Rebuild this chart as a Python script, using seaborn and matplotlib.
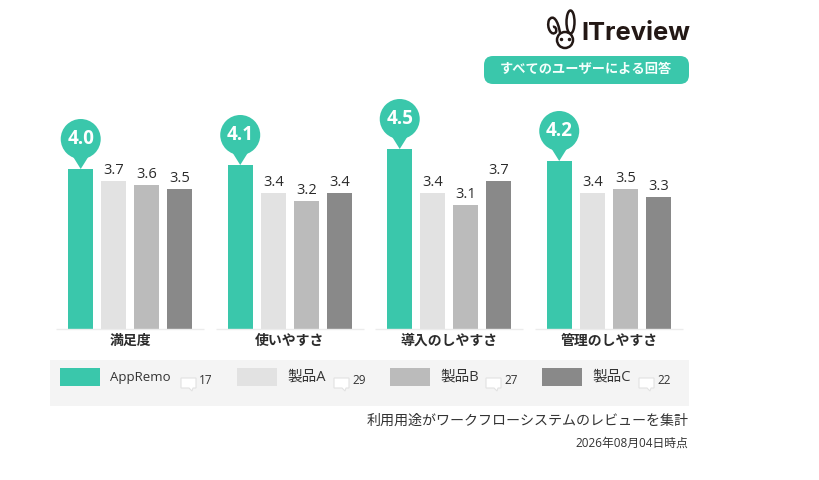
import matplotlib
matplotlib.use("Agg")
import matplotlib.pyplot as plt
from matplotlib.patches import Circle, Ellipse, FancyBboxPatch, PathPatch, Polygon, Rectangle
from matplotlib.path import Path
import pandas as pd
import seaborn as sns

categories = ["満足度", "使いやすさ", "導入のしやすさ", "管理のしやすさ"]
products = ["AppRemo", "製品A", "製品B", "製品C"]
review_counts = [17, 29, 27, 22]
appremo = [4.0, 4.1, 4.5, 4.2]
product_a = [3.7, 3.4, 3.4, 3.4]
product_b = [3.6, 3.2, 3.1, 3.5]
product_c = [3.5, 3.4, 3.7, 3.3]
colors = ["#3ac7ab", "#e2e2e2", "#bbbbbb", "#898989"]

badge_text = "すべてのユーザーによる回答"
footer_text = "利用用途がワークフローシステムのレビューを集計"
date_text = "2026年08月04日時点"

sns.set_theme(style="white")
plt.rcParams["font.family"] = ["Open Sans", "Noto Sans CJK JP", "DejaVu Sans"]

rows = []
for name, values in zip(products, [appremo, product_a, product_b, product_c]):
    for cat, v in zip(categories, values):
        rows.append({"category": cat, "product": name, "score": v})
df = pd.DataFrame(rows)

W, H = 820, 480
fig = plt.figure(figsize=(W / 100, H / 100), dpi=100, facecolor="white")

# bars: 40 px per score point, baseline at y=329
ax = fig.add_axes([50.5 / W, (H - 329) / H, 638 / W, 240 / H])
sns.barplot(data=df, x="category", y="score", hue="product", palette=colors,
            saturation=1, width=0.828, gap=0.242, linewidth=0, legend=False, ax=ax)
ax.set_ylim(0, 6)
ax.set_xlim(-0.5, 3.5)
ax.set_xlabel("")
ax.set_ylabel("")
ax.set_yticks([])
sns.despine(ax=ax, left=True, bottom=True)
ax.tick_params(axis="x", length=0, pad=3.5)
for label in ax.get_xticklabels():
    label.set_fontsize(10)
    label.set_fontweight("bold")
    label.set_color("#2b2b2b")
for i in range(len(categories)):
    ax.hlines(0, i - 0.464, i + 0.464, color="#ececec", lw=1, zorder=3, clip_on=False)

for container in ax.containers[1:]:
    ax.bar_label(container, fmt="%.1f", padding=2.5, fontsize=10.5, color="#2b2b2b")

# overlay in pixel coords for the pins, legend and header
ov = fig.add_axes([0, 0, 1, 1], facecolor="none")
ov.set_xlim(0, W)
ov.set_ylim(H, 0)
ov.axis("off")

for bar, v in zip(ax.containers[0], appremo):
    px, py = ax.transData.transform((bar.get_x() + bar.get_width() / 2, v))
    py = H - py
    ov.add_patch(Circle((px, py - 30), 20, fc=colors[0], ec="none"))
    ov.add_patch(Polygon([(px - 10, py - 16), (px + 10, py - 16), (px, py)], fc=colors[0], ec="none"))
    ov.text(px, py - 30, f"{v:.1f}", color="white", fontsize=13.5, fontweight="bold",
            ha="center", va="center")

# legend strip
ov.add_patch(Rectangle((50, 360), 639, 46, fc="#f4f4f4", ec="none"))
swatch_x = [60, 237, 390, 542]
label_x = [110, 287, 440, 592]
icon_x = [181, 334, 486, 639]
for name, n, color, sx, lx, ix in zip(products, review_counts, colors, swatch_x, label_x, icon_x):
    ov.add_patch(Rectangle((sx, 368), 40, 18, fc=color, ec="none"))
    ov.text(lx, 377, name, fontsize=9.5 if name == "AppRemo" else 10.5, color="#333333",
            ha="left", va="center")
    ov.add_patch(Polygon([(ix, 378), (ix + 15, 378), (ix + 15, 388), (ix + 12, 388), (ix + 11, 391),
                          (ix + 8, 388), (ix, 388)], fc="white", ec="#e2e2e2", lw=0.8))
    ov.text(ix + 18, 380, str(n), fontsize=8.5, color="#333333", ha="left", va="center")

ov.text(689, 421.5, footer_text, fontsize=10.1, color="#333333", ha="right", va="center")
ov.text(688, 443.5, date_text, fontsize=8.5, color="#333333", ha="right", va="center")

# header badge and logo
ov.add_patch(FancyBboxPatch((484, 56), 205, 28, boxstyle="round,pad=0,rounding_size=9",
                            fc=colors[0], ec="none"))
ov.text(586, 69.5, badge_text, fontsize=9.5, fontweight="bold", color="#f4fffc", ha="center", va="center")

ink = "#231815"
ov.text(581, 33, "ITreview", fontsize=18.4, fontweight="bold", family="Inter", color=ink,
        ha="left", va="center")
ov.add_patch(Ellipse((570.5, 22), 8, 23, fc="white", ec=ink, lw=1.8))
ov.add_patch(Ellipse((565, 40), 16, 16, fc="white", ec=ink, lw=1.8))
ear = Path([(560, 33), (558, 20), (553, 14), (549, 20), (546, 28), (552, 37), (556, 32), (557, 29), (555, 26), (553, 27)],
           [Path.MOVETO, Path.CURVE4, Path.CURVE4, Path.CURVE4, Path.CURVE4, Path.CURVE4, Path.CURVE4,
            Path.CURVE4, Path.CURVE4, Path.CURVE4])
ov.add_patch(PathPatch(ear, fc="none", ec=ink, lw=1.8))
ov.plot([561, 569], [39, 39], ls="none", marker="o", ms=1.5, color=ink)

fig.savefig("out.png", dpi=100)
plt.close(fig)
